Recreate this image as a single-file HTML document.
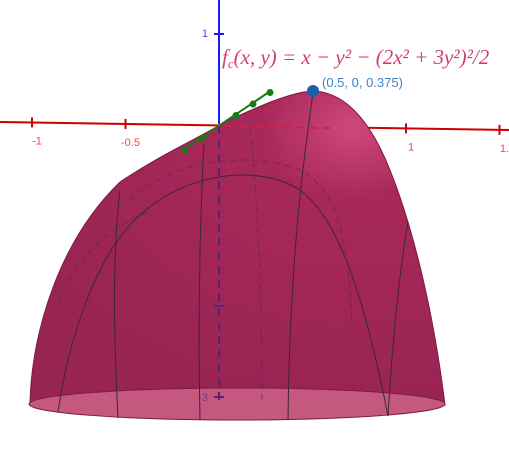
<!DOCTYPE html>
<html><head><meta charset="utf-8"><style>
html,body{margin:0;padding:0;background:#fff;width:509px;height:455px;overflow:hidden}
svg{display:block;font-family:"Liberation Sans",sans-serif}
</style></head><body>
<svg id="c" width="509" height="455" viewBox="0 0 509 455">
<defs>
<radialGradient id="g" cx="0.78" cy="0.12" r="0.9">
<stop offset="0" stop-color="#d0487a"/><stop offset="0.25" stop-color="#a8285a"/><stop offset="1" stop-color="#982452"/>
</radialGradient>
</defs>
<line x1="0" y1="122" x2="509" y2="130" stroke="#cc0000" stroke-width="2"/>
<g id="xticks"></g>
<path fill="url(#g)" stroke="#7a1c42" stroke-width="1"
d="M30,402 C32,330 60,240 120,182 C160,155 195,140 225,122 C255,108 290,92 313,91 C345,92 370,120 390,170 C410,220 432,300 445,405 Z"/>
<ellipse cx="237" cy="404" rx="208" ry="16" fill="#c4587e" stroke="#7a1c42" stroke-width="1"/>
<g fill="none" stroke="#3a2a30" stroke-width="1">
<path d="M58,412 C70,330 100,250 140,215 C190,170 260,165 300,190 C340,220 365,300 388,416"/>
<path d="M204,143 C200,220 198,320 200,420"/>
<path d="M313,93 C305,150 290,250 288,420"/>
<path d="M120,190 C112,260 114,340 118,418"/>
<path d="M408,222 C398,280 392,350 388,416"/>
</g>
<g fill="none" stroke="#5a2a40" stroke-width="1" stroke-dasharray="6,5" opacity="0.7">
<path d="M130,200 C170,160 250,150 300,170 C340,190 350,250 352,330"/>
<path d="M60,300 C80,250 110,230 150,210"/>
<path d="M250,130 C258,200 262,300 262,400"/>
</g>
<line x1="219" y1="126" x2="219" y2="402" stroke="#55237a" stroke-width="2" stroke-dasharray="8,6"/>
<line x1="219" y1="0" x2="219" y2="124" stroke="#1a1aff" stroke-width="2"/>
<line x1="214" y1="34" x2="224" y2="34" stroke="#1a1aff" stroke-width="2"/>
<line x1="226" y1="126" x2="330" y2="128" stroke="#cc2244" stroke-width="2" stroke-dasharray="8,6"/>
<g id="zticks"></g>
<line x1="183" y1="150" x2="272" y2="90" stroke="#1a7a1a" stroke-width="2"/>
<g id="ydots" fill="#1a7a1a"></g>
<text x="222" y="64" font-family="Liberation Serif,serif" font-style="italic" font-size="21" fill="#d0406e">f<tspan font-size="13" dy="4">c</tspan><tspan dy="-4">(x, y) = x − y² − (2x² + 3y²)²/2</tspan></text>
<circle cx="313" cy="91" r="6" fill="#1a5fa8"/>
<text x="322" y="87" font-size="13" fill="#3d86c8">(0.5, 0, 0.375)</text>
</svg>
<script>
const xTickVals=[-1,-0.5,0.5,1,1.5];
const xTickLabels=["-1","-0.5","0.5","1","1."];
const zTickVals=[1,-2,-3];
const zTickLabels=["1","-2","-3"];
const yTickVals=[-1,-0.5,0.5,1,1.5];
const ns="http://www.w3.org/2000/svg";
function xPos(v){return 219+v*187;}
function xLineY(px){return 122+px*0.0157;}
function zPos(v){return 124-v*91;}
function yPt(v){return [219+v*34,127-v*23];}
const gx=document.getElementById('xticks');
xTickVals.forEach((v,i)=>{const px=xPos(v),py=xLineY(px);
const l=document.createElementNS(ns,'line');


l.setAttribute('x1',px);l.setAttribute('x2',px);l.setAttribute('y1',py-5);l.setAttribute('y2',py+5);
l.setAttribute('stroke','#cc0000');l.setAttribute('stroke-width','2');gx.appendChild(l);
const t=document.createElementNS(ns,'text');


t.setAttribute('x',px+5);t.setAttribute('y',py+22);t.setAttribute('font-size','11');t.setAttribute('fill','#ff4444');t.setAttribute('text-anchor','middle');
t.textContent=xTickLabels[i];gx.appendChild(t);});
const gz=document.getElementById('zticks');
zTickVals.forEach((v,i)=>{const py=zPos(v);
const t=document.createElementNS(ns,'text');


t.setAttribute('x',208);t.setAttribute('y',py+4);t.setAttribute('font-size','11');t.setAttribute('fill',v>0?'#4444ff':'#6a3a8a');t.setAttribute('text-anchor','end');
t.textContent=zTickLabels[i];gz.appendChild(t);
if(v<0){const l=document.createElementNS(ns,'line');


l.setAttribute('x1',214);l.setAttribute('x2',224);l.setAttribute('y1',py);l.setAttribute('y2',py);l.setAttribute('stroke','#55237a');l.setAttribute('stroke-width','2');gz.appendChild(l);}});
const gy=document.getElementById('ydots');
yTickVals.forEach(v=>{const [px,py]=yPt(v);
const c=document.createElementNS(ns,'circle');


c.setAttribute('cx',px);c.setAttribute('cy',py);c.setAttribute('r',3.5);gy.appendChild(c);});
</script>
</body></html>
